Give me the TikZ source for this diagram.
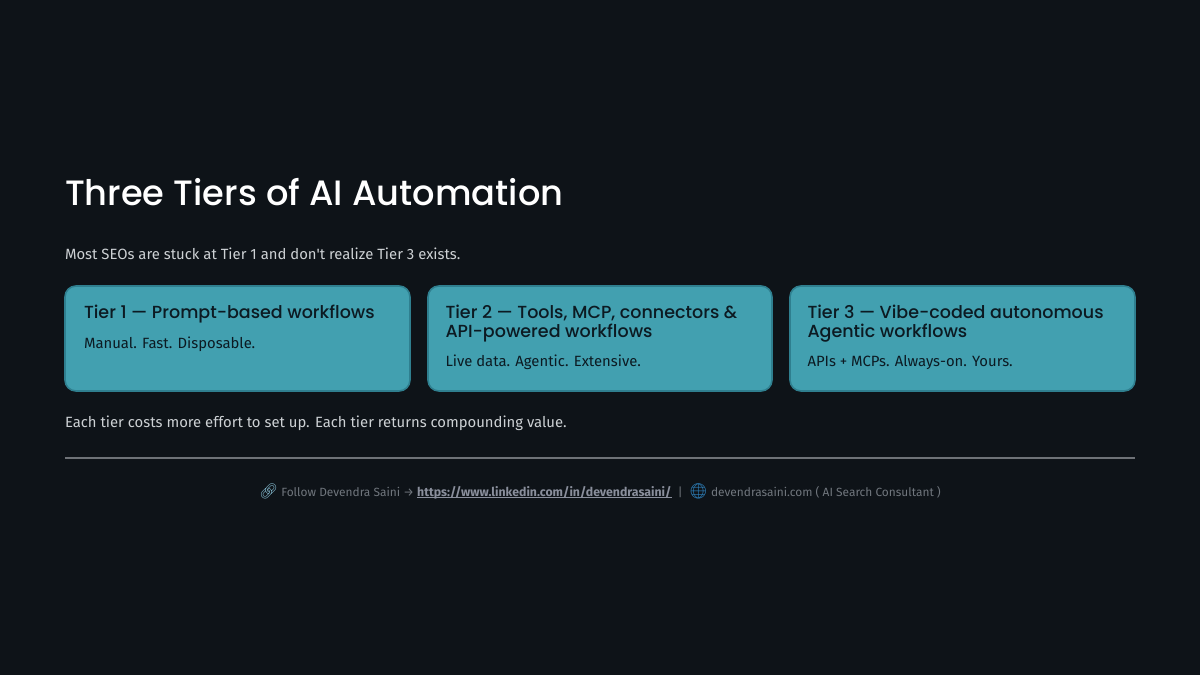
\documentclass[tikz,border=0pt]{standalone}
\usepackage{fontspec}
\setmainfont{Open Sans}
\newfontfamily\headfont{Poppins Medium}
\newfontfamily\bodyfont{Fira Sans}
\newfontfamily\emojifont{Noto Emoji}
\usetikzlibrary{positioning}
\definecolor{pagebg}{HTML}{0E1318}
\definecolor{cardfill}{HTML}{42A0B0}
\definecolor{cardline}{HTML}{2F7F8F}
\definecolor{cardtext}{HTML}{0C1A22}
\definecolor{bodytext}{HTML}{CDD1D4}
\definecolor{foottext}{HTML}{70767D}
\definecolor{linktext}{HTML}{8A8F9C}
\definecolor{rulecol}{HTML}{6E7277}
\definecolor{emojilink}{HTML}{7FB4C8}
\definecolor{emojiweb}{HTML}{2F86C4}
\begin{document}
\begin{tikzpicture}[
  x=1pt, y=-1pt,
  every node/.style={inner sep=0pt, outer sep=0pt},
  tiercard/.style={draw=cardline, line width=1.6pt, fill=cardfill, rounded corners=11pt,
    minimum height=105pt, anchor=north west},
  tierhead/.style={text=cardtext, font=\headfont\fontsize{17.5}{19}\selectfont, align=left, anchor=north west},
  tierbody/.style={text=cardtext, font=\bodyfont\fontsize{14.85}{19}\selectfont, anchor=north west},
  plaintext/.style={text=bodytext, font=\bodyfont\fontsize{14.85}{19}\selectfont, anchor=base west}
]
\useasboundingbox[fill=pagebg] (0,0) rectangle (1200,675);

% --- Title and intro ---
\node (title) [anchor=base west, text=white, font=\headfont\fontsize{35.2}{40}\selectfont] at (65,205)
  {Three Tiers of AI Automation};
\node (intro) [plaintext] at (65,259) {Most SEOs are stuck at Tier 1 and don't realize Tier 3 exists.};

% --- Cards ---
\node (card1) [tiercard, minimum width=345pt] at (65,286) {};
\node (card2) [tiercard, minimum width=344pt] at (428,286) {};
\node (card3) [tiercard, minimum width=345pt] at (790,286) {};

\node (head1) [tierhead] at (84,305) {Tier 1 — Prompt-based workflows};
\node (body1) [tierbody] at (84,337) {Manual. Fast. Disposable.};

\node (head2) [tierhead] at (445.5,305) {Tier 2 — Tools, MCP, connectors \&\\API-powered workflows};
\node (body2) [tierbody] at (445.5,355) {Live data. Agentic. Extensive.};

\node (head3) [tierhead] at (807.5,305) {Tier 3 — Vibe-coded autonomous\\Agentic workflows};
\node (body3) [tierbody] at (807.5,355) {APIs + MCPs. Always-on. Yours.};

% --- Closing line and footer ---
\node (closing) [plaintext] at (65,427) {Each tier costs more effort to set up. Each tier returns compounding value.};
\coordinate (ruleL) at (65,458);
\coordinate (ruleR) at (1135,458);
\draw[rulecol, line width=1.5pt] (ruleL) -- (ruleR);

\node (footer) [anchor=base, text=foottext, font=\bodyfont\fontsize{11.9}{15}\selectfont] at (600,496)
  {{\emojifont\fontsize{15}{15}\selectfont\color{emojilink}🔗} Follow Devendra Saini → {\color{linktext}\bfseries\fontsize{12.3}{15}\selectfont\underline{\smash{https://www.linkedin.com/in/devendrasaini/}}} \ | \ {\emojifont\fontsize{15}{15}\selectfont\color{emojiweb}🌐} devendrasaini.com ( AI Search Consultant )};
\end{tikzpicture}
\end{document}
